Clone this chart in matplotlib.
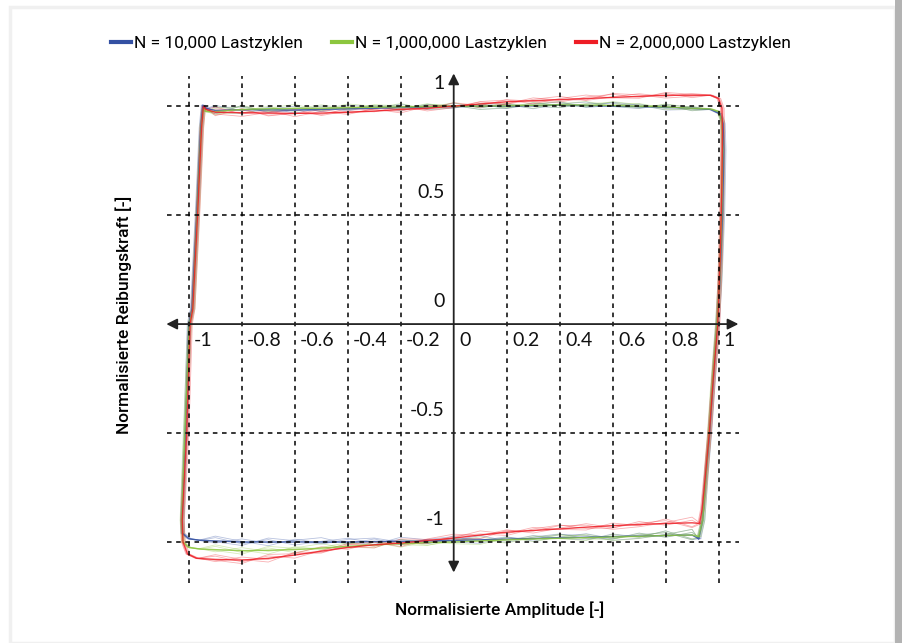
import matplotlib
matplotlib.use('Agg')
import matplotlib.pyplot as plt
from matplotlib.patches import Rectangle

# --- data ---
labels = ['N = 10,000 Lastzyklen', 'N = 1,000,000 Lastzyklen', 'N = 2,000,000 Lastzyklen']
colors = ['#3451a3', '#8cc63e', '#ee1d25']

x_ticks = [-1, -0.8, -0.6, -0.4, -0.2, 0, 0.2, 0.4, 0.6, 0.8, 1]
x_ticklabels = ['-1', '-0.8', '-0.6', '-0.4', '-0.2', '0', '0.2', '0.4', '0.6', '0.8', '1']
y_ticks = [-1, -0.5, 0, 0.5, 1]
y_ticklabels = ['-1', '-0.5', '0', '0.5', '1']

# x positions along the top edge (right -> left) and bottom edge (left -> right)
top_x = [0.9, 0.8, 0.7, 0.6, 0.5, 0.4, 0.3, 0.2, 0.1, 0.0,
         -0.1, -0.2, -0.3, -0.4, -0.5, -0.6, -0.7, -0.8, -0.9]
bot_x = [-0.9, -0.8, -0.7, -0.6, -0.5, -0.4, -0.3, -0.2, -0.1, 0.0,
         0.1, 0.2, 0.3, 0.4, 0.5, 0.6, 0.7, 0.8, 0.9]

# N = 10,000
blue_right = [(0.925, -0.985), (0.94, -0.9), (0.952, -0.7), (0.966, -0.5), (0.98, -0.25), (0.995, 0.0),
              (1.005, 0.2), (1.015, 0.5), (1.02, 0.8), (1.017, 0.92), (1.005, 0.965), (0.97, 0.985)]
blue_top = [0.99, 0.995, 0.998, 1.0, 1.003, 1.005, 1.002, 1.0, 1.0, 0.998,
            0.996, 0.995, 0.99, 0.988, 0.985, 0.982, 0.983, 0.984, 0.98]
blue_left = [(-0.935, 0.99), (-0.947, 1.005), (-0.955, 0.9), (-0.97, 0.5), (-0.988, 0.07), (-1.0, 0.0),
             (-1.013, -0.5), (-1.026, -0.9), (-1.024, -0.96), (-1.0, -0.985), (-0.96, -0.992)]
blue_bot = [-0.995, -1.0, -1.0, -1.0, -1.0, -1.0, -0.998, -0.997, -0.995, -0.993,
            -0.99, -0.987, -0.984, -0.981, -0.978, -0.975, -0.973, -0.97, -0.968]

# N = 1,000,000
green_right = [(0.925, -0.975), (0.94, -0.9), (0.952, -0.7), (0.964, -0.5), (0.978, -0.25), (0.994, 0.0),
               (1.004, 0.2), (1.012, 0.5), (1.016, 0.8), (1.013, 0.93), (1.0, 0.975), (0.97, 0.987)]
green_top = [0.99, 0.997, 1.0, 1.003, 1.005, 1.006, 1.004, 1.002, 1.0, 1.0,
             0.998, 0.997, 0.995, 0.993, 0.99, 0.99, 0.988, 0.985, 0.975]
green_left = [(-0.935, 0.975), (-0.945, 0.99), (-0.953, 0.9), (-0.968, 0.5), (-0.985, 0.07), (-0.998, 0.0),
              (-1.015, -0.5), (-1.027, -0.9), (-1.022, -1.0), (-1.0, -1.025), (-0.96, -1.032)]
green_bot = [-1.035, -1.04, -1.038, -1.035, -1.028, -1.02, -1.013, -1.008, -1.003, -1.0,
             -0.995, -0.99, -0.986, -0.983, -0.98, -0.977, -0.974, -0.97, -0.968]

# N = 2,000,000
red_right = [(0.928, -0.915), (0.938, -0.85), (0.95, -0.7), (0.965, -0.5), (0.98, -0.25), (0.997, 0.0),
             (1.006, 0.3), (1.012, 0.6), (1.015, 0.88), (1.013, 0.99), (1.0, 1.035), (0.97, 1.05)]
red_top = [1.05, 1.05, 1.045, 1.04, 1.035, 1.03, 1.025, 1.02, 1.01, 1.0,
           0.99, 0.985, 0.977, 0.972, 0.968, 0.967, 0.968, 0.97, 0.972]
red_left = [(-0.935, 0.985), (-0.945, 1.0), (-0.952, 0.9), (-0.967, 0.5), (-0.985, 0.07), (-0.995, 0.0),
            (-1.008, -0.5), (-1.025, -0.9), (-1.022, -1.0), (-1.005, -1.055), (-0.97, -1.075)]
red_bot = [-1.08, -1.083, -1.075, -1.06, -1.042, -1.025, -1.013, -1.005, -0.993, -0.982,
           -0.968, -0.955, -0.947, -0.94, -0.932, -0.925, -0.92, -0.915, -0.912]

# scatter of the single cycles around the mean loop (hundredths), top edge then bottom edge
cyc1 = [0.8, -0.6, 1.2, 0.3, -0.9, 1.5, 0.6, -1.1, 0.9, -0.4, 1.3, -0.8, 0.5, 1.7, -0.7, 0.2, -1.3, 1.9, -1.6,
        -1.0, 1.4, -0.5, 0.8, 2.0, -0.9, 1.2, -1.6, 0.7, 1.8, -0.3, 1.1, -1.2, 0.4, 1.6, -0.9, 0.6, 1.3, -2.2]
cyc2 = [-1.1, 0.9, -0.4, 1.4, 0.7, -1.2, -0.3, 1.0, -0.8, 1.6, -0.5, 0.4, 1.2, -1.0, 0.8, -1.5, 1.1, -0.6, 2.4,
        1.5, -0.8, 1.1, -1.4, 0.3, 1.7, -0.6, 0.9, -1.1, 0.2, 1.9, -0.7, 1.4, -0.2, -1.3, 1.2, -0.5, 2.1, -1.8]
cyc3 = [0.4, 1.3, -0.9, -0.2, 1.6, 0.5, -1.4, 0.8, 1.1, -0.7, -1.2, 1.5, -0.3, 0.6, -1.1, 1.8, 0.3, -1.7, -0.8,
        -0.4, -1.6, 1.8, 0.6, -0.9, 1.2, 1.6, -0.4, -1.3, 1.0, 0.5, -1.5, 0.7, 1.8, -0.6, -1.1, 1.4, -0.8, 1.2]
cyc4 = [-0.5, -1.3, 0.7, 1.8, -0.6, -0.2, 1.3, -0.9, -1.5, 0.4, 1.0, -1.6, 0.9, -0.4, 1.6, -0.3, -0.9, 1.2, 1.4,
        2.2, 0.3, -1.7, 1.3, -0.5, 0.1, -1.4, 1.9, 0.5, -0.8, -1.6, 0.8, -0.3, 1.5, 0.9, -1.7, -1.0, 0.4, 2.6]
cyc_dx = [-0.006, 0.004, 0.008, -0.003]


def loop(right, top_y, left, bot_y, cyc=None, dx=0.0):
    pts = [(x + dx, y) for x, y in right]
    for i, (x, y) in enumerate(zip(top_x, top_y)):
        pts.append((x, y + (cyc[i] * 0.01 if cyc else 0)))
    pts += [(x + dx, y) for x, y in left]
    for i, (x, y) in enumerate(zip(bot_x, bot_y)):
        pts.append((x, y + (cyc[19 + i] * 0.01 if cyc else 0)))
    pts.append(pts[0])
    return [p[0] for p in pts], [p[1] for p in pts]


series = [
    (blue_right, blue_top, blue_left, blue_bot),
    (green_right, green_top, green_left, green_bot),
    (red_right, red_top, red_left, red_bot),
]
cycles = [cyc1, cyc2, cyc3, cyc4]

fig = plt.figure(figsize=(9.02, 6.43), dpi=100)
fig.patch.set_facecolor('white')

# page frame: faint shadow and the grey strip on the right
fig.patches.append(Rectangle((10 / 902, 0), 885 / 902, 636 / 643, transform=fig.transFigure,
                             fill=False, edgecolor='#f0f0f0', lw=2.5))
fig.patches.append(Rectangle((895 / 902, 0), 7 / 902, 1, transform=fig.transFigure,
                             facecolor='#b3b3b3', edgecolor='none'))

ax = fig.add_axes([0.180, 0.0893, 0.646, 0.8134])
ax.set_xlim(-1.1, 1.1)
ax.set_ylim(-1.2, 1.2)
ax.axis('off')

# single cycles (faint) then mean loops
for k, (s, c) in enumerate(zip(series, colors)):
    for j in range(4):
        cyc = cycles[(j + k) % 4]
        xs, ys = loop(*s, cyc=cyc, dx=cyc_dx[(j + 2 * k) % 4])
        ax.plot(xs, ys, color=c, lw=0.6, alpha=0.35, zorder=2)
for k, (s, c, lab) in enumerate(zip(series, colors, labels)):
    xs, ys = loop(*s)
    ax.plot(xs, ys, color=c, lw=1.0, alpha=0.85, zorder=2 + k * 0.1, label=lab)

# dashed grid
dash = (0, (3, 3))
for xv in x_ticks:
    if xv != 0:
        ax.vlines(xv, -1.19, 1.14, colors='black', linestyles=dash, lw=1.1, zorder=3)
for yv in y_ticks:
    if yv != 0:
        ax.hlines(yv, -1.083, 1.079, colors='black', linestyles=dash, lw=1.1, zorder=3)

# axes with arrows
ax.annotate('', xy=(1.075, 0), xytext=(-1.085, 0),
            arrowprops=dict(arrowstyle='<|-|>', color='#222222', lw=1.3, mutation_scale=16,
                            shrinkA=0, shrinkB=0), zorder=4)
ax.annotate('', xy=(0, 1.15), xytext=(0, -1.14),
            arrowprops=dict(arrowstyle='<|-|>', color='#222222', lw=1.3, mutation_scale=16,
                            shrinkA=0, shrinkB=0), zorder=4)

tick_font = ['Lato', 'DejaVu Sans']
for xv, t in zip(x_ticks, x_ticklabels):
    ax.text(xv + 0.02, -0.075, t, ha='left', va='center', fontsize=14, family=tick_font, color='#111111')
for yv, t in zip(y_ticks, y_ticklabels):
    ax.text(-0.035, yv + 0.105, t, ha='right', va='center', fontsize=14, family=tick_font, color='#111111')

lab_font = ['Roboto', 'DejaVu Sans']
fig.text(500 / 902, 1 - 610 / 643, 'Normalisierte Amplitude [-]', ha='center', va='center',
         fontsize=12.5, family=lab_font, fontweight='medium')
fig.text(124 / 902, 1 - 315 / 643, 'Normalisierte Reibungskraft [-]', ha='center', va='center',
         rotation=90, fontsize=12.5, family=lab_font, fontweight='medium')

fig.legend(loc='center', bbox_to_anchor=(451 / 902, 1 - 43 / 643), ncol=3, frameon=False,
           handlelength=1.15, handletextpad=0.15, columnspacing=1.7,
           prop={'family': ['Roboto', 'DejaVu Sans'], 'size': 12.5})
for h in fig.legends[0].legend_handles:
    h.set_linewidth(3)
    h.set_alpha(1)

fig.savefig('out.png', dpi=100)
